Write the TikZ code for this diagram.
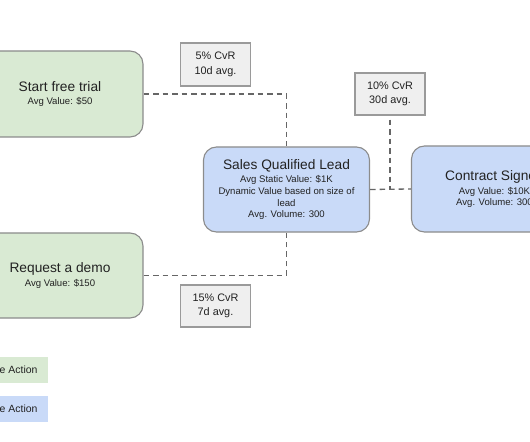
\documentclass[tikz,border=0pt]{standalone}
\usepackage{fontspec}
\setmainfont{Liberation Sans}
\usetikzlibrary{positioning}
\definecolor{gfill}{HTML}{D9EAD3}
\definecolor{bfill}{HTML}{C9DAF8}
\definecolor{kfill}{HTML}{EFEFEF}
\definecolor{bord}{HTML}{8C8C8C}
\definecolor{kbord}{HTML}{9A9A9A}
\definecolor{dline}{HTML}{666666}
\definecolor{txt}{HTML}{222222}
\newcommand{\ttlfont}{\fontsize{13.8}{16}\selectfont}
\newcommand{\subfont}{\fontsize{9.6}{11.3}\selectfont}
\newcommand{\cvrfont}{\fontsize{10.9}{14.5}\selectfont}
\tikzset{
  stage/.style={draw=bord, line width=1.1bp, rounded corners=13bp, align=center,
    inner sep=0pt, text=txt, font=\subfont, minimum width=166bp},
  cvr/.style={draw=kbord, fill=kfill, line width=1.1bp, align=center, inner sep=0pt,
    text=txt, font=\cvrfont, minimum width=70bp, minimum height=43bp},
  flow/.style={draw=dline, line width=1.3bp, dash pattern=on 5.5bp off 4bp},
}
\begin{document}
\begin{tikzpicture}[x=1bp, y=-1bp]
\useasboundingbox (0,0) rectangle (530,442);
% stages
\node[stage, fill=gfill, minimum height=86bp] (trial) at (60,94)
  {{\ttlfont Start free trial}\\[2.5bp] Avg Value: \$50};
\node[stage, fill=gfill, minimum height=85bp] (demo) at (60,275.5)
  {{\ttlfont Request a demo}\\[2.5bp] Avg Value: \$150};
\node[stage, fill=bfill, minimum height=85bp] (sql) at (286.5,189.5)
  {{\ttlfont Sales Qualified Lead}\\[2.5bp] Avg Static Value: \$1K\\[0.4bp] Dynamic Value based on size of\\[0.4bp] lead\\[0.4bp] Avg. Volume: 300};
\node[stage, fill=bfill, minimum height=86bp] (contract) at (494.5,189)
  {{\ttlfont Contract Signed}\\[2.5bp] Avg Value: \$10K\\[0.4bp] Avg. Volume: 300};
% conversion boxes
\node[cvr] (c5) at (215.5,64.5) {5\% CvR\\10d avg.};
\node[cvr, minimum height=42bp] (c10) at (390,94) {10\% CvR\\30d avg.};
\node[cvr, minimum height=42bp] (c15) at (215.5,306) {15\% CvR\\7d avg.};
% connectors
\draw[flow] (trial.east) -| (sql.north);
\draw[flow] (demo.east) -| (sql.south);
\draw[flow] (sql.east) -- (contract.west);
\coordinate (j) at (c10.south |- sql.east);
\draw[flow] ([yshift=-4bp]c10.south) -- (j);
% legend
\fill[gfill] (-60,357) rectangle (48,383);
\fill[bfill] (-60,396) rectangle (48,422);
\node[anchor=west, inner sep=0pt, text=txt, font=\fontsize{10.5}{12}\selectfont] (lg1) at (-0.5,370) {e Action};
\node[anchor=west, inner sep=0pt, text=txt, font=\fontsize{10.5}{12}\selectfont] (lg2) at (-0.5,409) {e Action};
\end{tikzpicture}
\end{document}
